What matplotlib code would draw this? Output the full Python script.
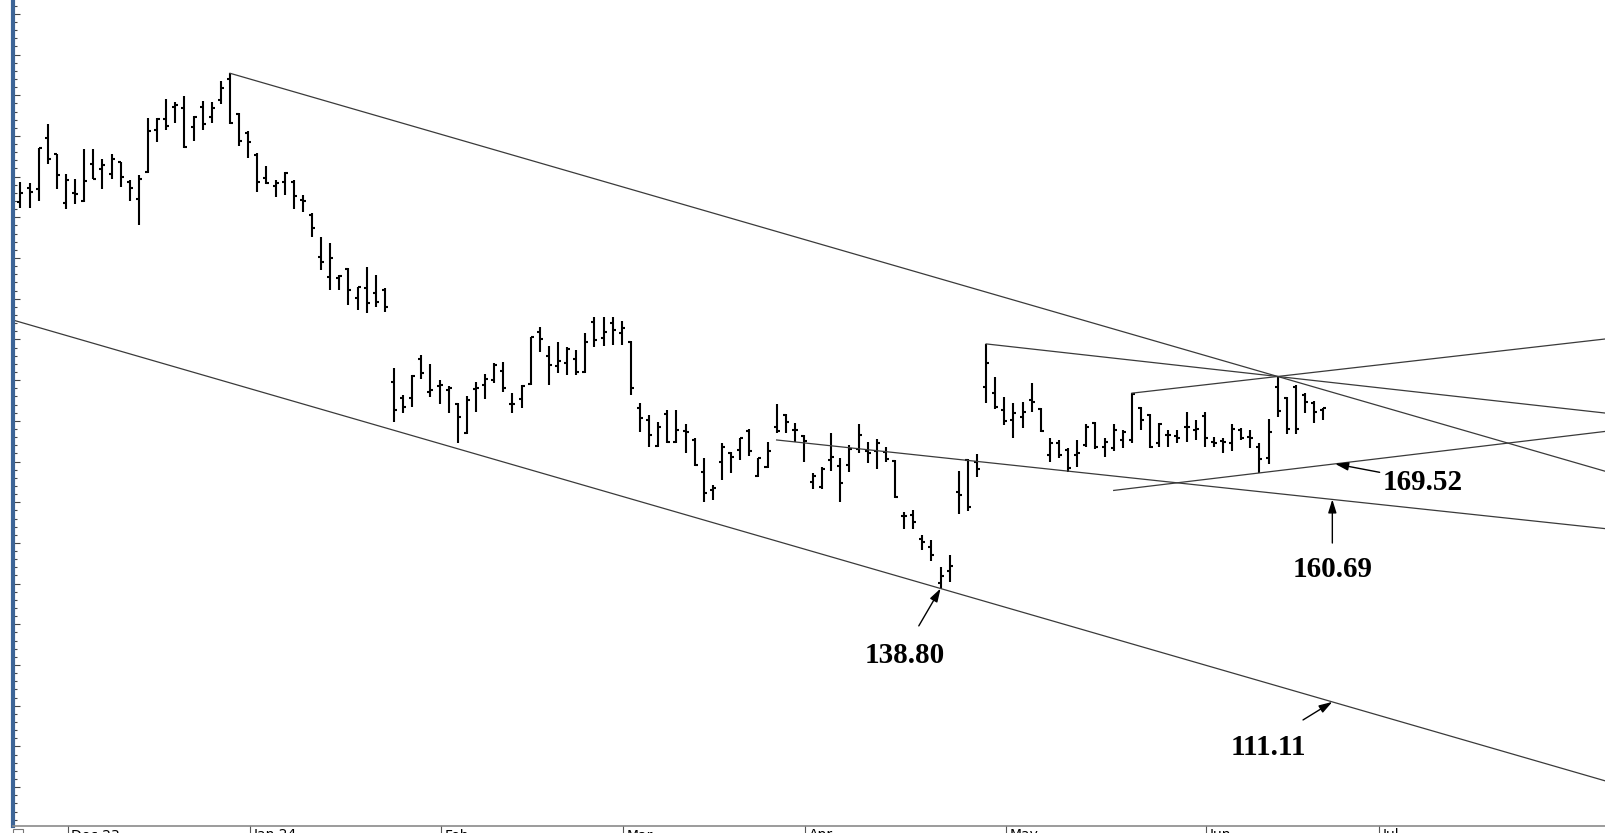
import numpy as np
import matplotlib.pyplot as plt
from matplotlib.patches import Rectangle
from matplotlib.ticker import MultipleLocator

# OHLC diario (um valor por barra)
opens = [233.8, 237.3, 237.0, 249.6, 245.5, 233.4, 236.1, 234.1, 243.1, 241.8,
         240.6, 243.5, 238.8, 234.4, 241.2, 251.5, 254.2, 257.2, 256.8, 252.3,
         257.2, 254.7, 258.8, 264.0, 255.3, 250.6, 245.3, 239.7, 237.8, 238.8,
         238.8, 234.3, 230.6, 220.2, 215.4, 215.0, 217.2, 210.1, 212.6, 211.3,
         212.1, 189.6, 185.5, 185.5, 195.1, 187.1, 188.6, 187.6, 184.1, 177.1,
         187.7, 188.8, 190.0, 192.3, 184.1, 185.4, 189.0, 201.9, 195.9, 193.5,
         194.1, 195.2, 192.1, 204.4, 200.3, 204.0, 201.5, 199.4, 183.1, 180.2,
         173.8, 181.6, 174.9, 177.6, 175.3, 167.5, 163.0, 170.0, 172.0, 172.8,
         177.6, 166.4, 168.6, 178.4, 181.4, 177.7, 176.3, 165.0, 163.8, 170.4,
         168.9, 169.1, 173.0, 172.6, 172.6, 172.4, 170.2, 156.6, 156.9, 150.9,
         149.1, 140.2, 143.2, 162.6, 170.4, 169.9, 188.4, 186.9, 182.7, 180.2,
         181.0, 185.0, 182.8, 171.6, 174.5, 172.8, 171.6, 174.1, 179.5, 173.6,
         173.3, 175.3, 175.3, 183.1, 181.4, 174.5, 176.5, 176.3, 178.6, 177.7,
         181.2, 174.9, 175.1, 174.5, 177.7, 176.1, 173.6, 170.9, 188.3, 185.7,
         188.4, 186.3, 184.3, 182.7]
highs = [238.8, 238.4, 247.0, 252.9, 245.5, 240.6, 239.4, 246.8, 246.8, 244.3,
         245.5, 243.5, 239.2, 240.4, 254.3, 254.3, 259.1, 258.4, 259.9, 255.0,
         258.6, 258.3, 263.5, 265.4, 255.6, 251.2, 245.7, 242.6, 239.2, 241.2,
         239.2, 235.5, 231.0, 225.2, 223.6, 215.8, 217.5, 213.0, 217.9, 215.8,
         212.6, 192.9, 186.3, 191.3, 196.2, 193.9, 190.0, 188.6, 184.5, 186.1,
         189.6, 191.5, 194.1, 194.5, 186.9, 188.8, 200.7, 203.0, 198.4, 199.4,
         198.1, 197.4, 201.7, 205.6, 205.4, 205.4, 204.6, 199.7, 184.5, 181.4,
         179.8, 182.7, 182.7, 179.1, 175.7, 170.8, 164.2, 174.5, 172.4, 175.7,
         177.9, 170.8, 174.9, 184.1, 181.7, 179.4, 176.5, 167.1, 168.6, 177.1,
         170.8, 174.1, 179.1, 174.9, 175.5, 173.6, 170.4, 157.7, 158.1, 152.0,
         150.7, 144.2, 147.0, 167.7, 170.6, 171.9, 198.9, 190.7, 185.8, 184.5,
         184.7, 189.4, 183.1, 175.7, 175.3, 173.3, 175.3, 179.2, 179.8, 175.7,
         179.2, 177.7, 186.8, 183.5, 181.8, 179.5, 177.7, 177.7, 182.2, 180.2,
         182.2, 176.1, 175.7, 179.2, 178.2, 177.7, 174.5, 180.4, 190.9, 185.9,
         188.7, 186.8, 184.9, 183.1]
lows = [232.2, 232.2, 234.0, 243.0, 237.0, 232.0, 233.3, 233.7, 239.3, 237.0,
        239.4, 237.5, 234.0, 228.0, 240.8, 248.4, 251.5, 253.1, 247.1, 248.8,
        251.5, 253.3, 257.8, 252.9, 247.6, 244.5, 236.3, 238.1, 235.1, 235.5,
        232.0, 231.4, 225.2, 217.1, 212.1, 212.1, 208.5, 207.2, 206.4, 208.0,
        206.8, 179.8, 181.9, 183.3, 190.4, 185.9, 184.1, 181.9, 174.6, 176.8,
        182.2, 185.3, 189.2, 187.2, 181.9, 183.1, 188.8, 197.0, 188.8, 191.8,
        191.3, 191.3, 191.8, 198.2, 198.4, 198.6, 198.6, 186.3, 177.3, 173.5,
        173.5, 174.5, 174.5, 172.2, 168.9, 160.1, 160.5, 165.5, 167.1, 170.4,
        171.4, 166.1, 168.3, 177.1, 177.1, 174.9, 170.0, 163.2, 163.2, 167.7,
        160.1, 167.5, 172.0, 169.6, 168.2, 170.0, 161.0, 153.4, 153.4, 148.3,
        145.6, 138.8, 140.5, 157.1, 157.9, 166.1, 184.3, 182.8, 179.0, 175.7,
        178.2, 182.2, 177.3, 170.0, 170.8, 167.5, 168.7, 173.6, 173.0, 171.0,
        172.7, 173.3, 174.5, 177.7, 173.3, 173.6, 173.6, 174.5, 174.9, 175.3,
        173.6, 173.6, 172.0, 172.7, 175.3, 173.3, 167.2, 169.4, 181.0, 176.8,
        176.8, 182.0, 179.4, 180.2]
closes = [235.9, 236.2, 247.0, 244.3, 240.4, 239.1, 235.7, 238.9, 239.4, 242.9,
          244.3, 240.0, 237.3, 239.4, 251.3, 254.2, 252.5, 257.6, 247.4, 254.7,
          252.9, 256.9, 261.7, 253.3, 248.8, 248.6, 238.8, 238.4, 238.4, 240.8,
          235.2, 234.0, 227.3, 219.1, 219.9, 215.6, 212.1, 213.0, 208.9, 209.3,
          208.0, 182.7, 183.3, 191.0, 191.8, 187.6, 188.8, 188.0, 181.0, 185.1,
          188.0, 190.2, 193.7, 188.0, 184.1, 188.6, 200.5, 200.0, 193.7, 194.8,
          197.6, 191.9, 199.4, 199.9, 201.9, 202.3, 202.7, 188.0, 180.6, 176.5,
          178.4, 174.9, 177.7, 177.3, 169.1, 162.3, 163.4, 173.6, 171.2, 175.7,
          172.6, 170.8, 172.6, 177.6, 179.8, 177.7, 175.1, 166.4, 168.1, 171.2,
          164.7, 173.0, 176.5, 172.1, 174.5, 170.6, 161.2, 156.6, 155.2, 150.3,
          147.0, 141.9, 144.4, 161.9, 158.8, 168.2, 194.1, 183.3, 180.0, 181.9,
          182.2, 184.7, 177.6, 174.6, 171.6, 168.3, 172.0, 178.6, 173.6, 174.9,
          177.7, 177.3, 186.6, 180.2, 173.5, 179.2, 176.5, 175.9, 178.6, 177.9,
          175.9, 174.6, 174.9, 177.9, 175.7, 175.7, 170.6, 177.3, 182.5, 177.9,
          177.9, 184.7, 182.2, 183.1]

# rotulos do eixo de datas (indice da primeira barra de cada mes)
month_labels = ["Dec 23", "Jan 24", "Feb", "Mar", "Apr", "May", "Jun", "Jul"]
month_starts = [5, 25, 46, 66, 86, 108, 130, 149]

# pontos das linhas de suporte desenhadas a mao (indice, preco)
support_up = [(120, 162.9), (136, lows[136])]
support_dn = [(83, 175.3), (144, 160.69)]

XMIN, XMAX = -0.82, 174.04
YMIN, YMAX = 80.45, 283.4
W, H = 1606, 833


def ray(p1, p2, x_start, x_end=XMAX):
    (x1, y1), (x2, y2) = p1, p2
    slope = (y2 - y1) / (x2 - x1)
    xs = np.array([x_start, x_end])
    return xs, y1 + slope * (xs - x1)


fig = plt.figure(figsize=(W / 100, H / 100), dpi=100)
ax = fig.add_axes([13 / W, 7 / H, (W - 13) / W, 826 / H])
ax.set_xlim(XMIN, XMAX)
ax.set_ylim(YMIN, YMAX)

# barras OHLC
x = np.arange(len(closes))
ax.vlines(x, lows, highs, color='black', lw=1.5)
ax.hlines(opens, x - 0.33, x, color='black', lw=1.5)
ax.hlines(closes, x, x + 0.33, color='black', lw=1.5)

# canal principal
top_a = (23, highs[23])
top_b = (138, highs[138])
slope = (top_b[1] - top_a[1]) / (top_b[0] - top_a[0])
bot_a = (101, lows[101])
bot_b = (102, lows[101] + slope)

lc = '#3a3a3a'
lw = 0.9
ax.plot(*ray(top_a, top_b, 23), color=lc, lw=lw)
ax.plot(*ray(bot_a, bot_b, XMIN), color=lc, lw=lw)
# leque a partir das maximas
ax.plot(*ray((106, highs[106]), top_b, 106), color=lc, lw=lw)
ax.plot(*ray((122, highs[122]), top_b, 122), color=lc, lw=lw)
# suportes
ax.plot(*ray(support_up[0], support_up[1], support_up[0][0]), color=lc, lw=lw)
ax.plot(*ray(support_dn[0], support_dn[1], support_dn[0][0]), color=lc, lw=lw)

# anotacoes
font = dict(family='Liberation Serif', weight='bold', size=21)
arrow = dict(arrowstyle='-|>,head_length=0.8,head_width=0.25', color='black',
             lw=1.0, shrinkA=0, shrinkB=0, mutation_scale=10)

bot_x, bot_y = ray(bot_a, bot_b, 144, 145)
sup_x, sup_y = ray(support_up[0], support_up[1], 144.3, 145)
notes = [
    ("138.80", (101, lows[101]), (-15.7, -26.9), (-26.0, -48.2)),
    ("111.11", (144, bot_y[0]), (-21.1, -13.0), (-46.3, -33.0)),
    ("160.69", (144, 160.69), (0, -31.4), (0, -50.8)),
    ("169.52", (144.3, sup_y[0]), (32.1, -6.1), (63.1, -13.5)),
]
for label, tip, start, txt in notes:
    ax.annotate('', xy=tip, xytext=start, textcoords='offset points',
                arrowprops=arrow)
    ax.annotate(label, xy=tip, xytext=txt, textcoords='offset points',
                ha='center', va='center', **font)

# eixos
for side in ['top', 'right']:
    ax.spines[side].set_visible(False)
ax.spines['left'].set_color('#3d6597')
ax.spines['left'].set_linewidth(3)
ax.spines['bottom'].set_color('#8a8a8a')
ax.spines['bottom'].set_linewidth(1.2)

ax.yaxis.set_major_locator(MultipleLocator(10))
ax.yaxis.set_minor_locator(MultipleLocator(2))
ax.tick_params(axis='y', which='major', direction='in', length=5, width=0.8,
               color='#444444', labelleft=False)
ax.tick_params(axis='y', which='minor', direction='in', length=3, width=0.8,
               color='#444444')
ax.set_xticks([])

# faixa de datas (cortada na borda de baixo)
tr = ax.get_xaxis_transform()
for lab, m in zip(month_labels, month_starts):
    ax.plot([m + 0.17, m + 0.17], [0, -8 / 826], transform=tr, color='#555555',
            lw=0.8, clip_on=False)
    ax.text(m + 0.55, -2.5 / 826, lab, transform=tr, ha='left', va='top',
            fontsize=10, family='DejaVu Sans', clip_on=False)

fig.add_artist(Rectangle((13 / W, -2 / H), 10 / W, 6 / H, transform=fig.transFigure,
                         fill=False, ec='#777777', lw=0.8))

fig.savefig('out.png', dpi=100)
